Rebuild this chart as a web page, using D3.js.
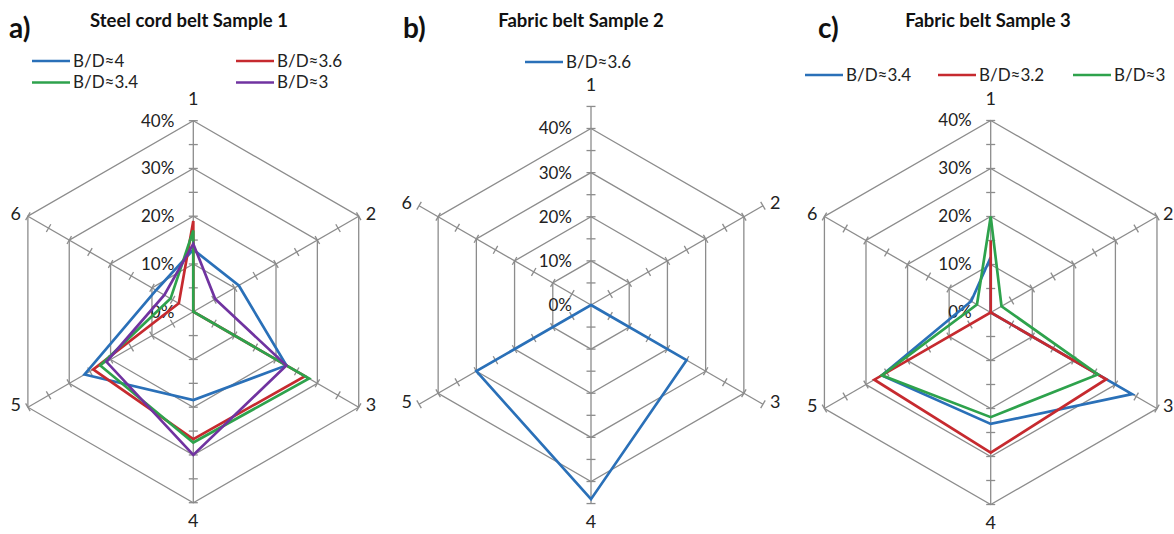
<!DOCTYPE html>
<html>
<head>
<meta charset="utf-8">
<script src="https://cdn.jsdelivr.net/npm/d3@7/dist/d3.min.js"></script>
<style>
  html, body { margin: 0; padding: 0; background: #fff; }
  svg { display: block; font-family: Lato, "Open Sans", "DejaVu Sans", sans-serif; }
</style>
</head>
<body>
<svg id="chart" width="1174" height="534"></svg>
<script>
// ---------- data ----------
const axisLabels = ["1", "2", "3", "4", "5", "6"];
const tickValues = [0, 10, 20, 30, 40];
const tickLabels = ["0%", "10%", "20%", "30%", "40%"];

// Panel a) Steel cord belt Sample 1
const aTitle = "Steel cord belt Sample 1";
const aNames = ["B/D≈4", "B/D≈3.6", "B/D≈3.4", "B/D≈3"];
const aBD4  = [13, 11, 22.5, 18.5, 26.3, 9];
const aBD36 = [19, 0, 27, 26.7, 24.2, 3.5];
const aBD34 = [17, 0, 28, 27.4, 22.5, 5.5];
const aBD3  = [14.2, 5.3, 22.5, 30, 21, 7];

// Panel b) Fabric belt Sample 2
const bTitle = "Fabric belt Sample 2";
const bNames = ["B/D≈3.6"];
const bBD36 = [0, 0, 25, 44, 30, 0];

// Panel c) Fabric belt Sample 3
const cTitle = "Fabric belt Sample 3";
const cNames = ["B/D≈3.4", "B/D≈3.2", "B/D≈3"];
const cBD34 = [11.5, 0, 34, 23.2, 26.2, 4.7];
const cBD32 = [15, 0, 27.8, 29.2, 28, 0];
const cBD3  = [20, 2.6, 25.8, 21.8, 26.2, 3.3];

const colors = { blue: "#2a70b8", red: "#c62a2f", green: "#2ea24c", purple: "#7033a0" };

// ---------- drawing ----------
const svg = d3.select("#chart");
const gridColor = "#8c8c8c";

function drawPanel(cfg) {
  const g = svg.append("g");
  const r = d3.scaleLinear().domain([0, 40]).range([0, cfg.r40]);
  const ang = d3.scaleLinear().domain([0, axisLabels.length]).range([0, 2 * Math.PI]);
  const pt = (i, v) => [cfg.cx + r(v) * Math.sin(ang(i)), cfg.cy - r(v) * Math.cos(ang(i))];

  // panel letter and title
  g.append("text").attr("x", cfg.letterX).attr("y", 38).attr("font-size", 28)
    .attr("font-weight", "bold").attr("fill", "#111").text(cfg.letter);
  g.append("text").attr("x", cfg.titleX).attr("y", 27).attr("font-size", 18.5)
    .attr("font-weight", "bold").attr("fill", "#111").attr("text-anchor", "middle").text(cfg.title);

  // rings
  tickValues.filter(v => v > 0).forEach(v => {
    const pts = axisLabels.map((_, i) => pt(i, v));
    g.append("path").attr("d", d3.line()(pts) + "Z")
      .attr("fill", "none").attr("stroke", gridColor).attr("stroke-width", 1.3);
  });
  // spokes + ticks
  axisLabels.forEach((_, i) => {
    const [x1, y1] = pt(i, 0), [x2, y2] = pt(i, cfg.max);
    g.append("line").attr("x1", x1).attr("y1", y1).attr("x2", x2).attr("y2", y2)
      .attr("stroke", gridColor).attr("stroke-width", 1.3);
    const a = ang(i);
    const px = Math.cos(a), py = Math.sin(a); // perpendicular direction
    d3.range(5, cfg.max + 0.01, 5).forEach(v => {
      const [tx, ty] = pt(i, v);
      g.append("line").attr("x1", tx - 4.5 * px).attr("y1", ty - 4.5 * py)
        .attr("x2", tx + 4.5 * px).attr("y2", ty + 4.5 * py)
        .attr("stroke", gridColor).attr("stroke-width", 1.3);
    });
  });
  // tick labels on axis 1
  tickValues.forEach((v, k) => {
    const [x, y] = pt(0, v);
    g.append("text").attr("x", x - 19).attr("y", y).attr("dy", "0.35em")
      .attr("text-anchor", "end").attr("font-size", 17).attr("fill", "#222").text(tickLabels[k]);
  });
  // axis labels
  axisLabels.forEach((lab, i) => {
    const [x, y] = pt(i, cfg.max);
    let lx = x, ly = y, anchor = "middle";
    if (i === 0) { ly = y - 22; }
    else if (i === 3) { ly = y + 18; }
    else if (i < 3) { lx = Math.min(x + 7, 1163); anchor = "start"; ly = y - 3; }
    else { lx = x - 7; anchor = "end"; ly = y - 3; }
    g.append("text").attr("x", lx).attr("y", ly).attr("dy", "0.35em")
      .attr("text-anchor", anchor).attr("font-size", 18).attr("fill", "#222").text(lab);
  });
  // series
  const line = d3.line().curve(d3.curveLinearClosed);
  cfg.series.forEach(s => {
    g.append("path").attr("d", line(s.values.map((v, i) => pt(i, v))))
      .attr("fill", "none").attr("stroke", s.color).attr("stroke-width", 2.7)
      .attr("stroke-linejoin", "miter");
  });
  // legend
  cfg.series.forEach((s, k) => {
    const [lx, ly] = cfg.legendPos[k];
    g.append("line").attr("x1", lx).attr("y1", ly).attr("x2", lx + 38).attr("y2", ly)
      .attr("stroke", s.color).attr("stroke-width", 2.7);
    g.append("text").attr("x", lx + 41).attr("y", ly).attr("dy", "0.35em")
      .attr("font-size", 17).attr("fill", "#222").text(s.name);
  });
}

drawPanel({
  letter: "a)", letterX: 9, title: aTitle, titleX: 189,
  cx: 193.3, cy: 311.7, r40: 191, max: 40,
  series: [
    { name: aNames[0], values: aBD4, color: colors.blue },
    { name: aNames[1], values: aBD36, color: colors.red },
    { name: aNames[2], values: aBD34, color: colors.green },
    { name: aNames[3], values: aBD3, color: colors.purple }
  ],
  legendPos: [[32, 61], [236, 61], [32, 82.5], [236, 82.5]]
});

drawPanel({
  letter: "b)", letterX: 403, title: bTitle, titleX: 581,
  cx: 591, cy: 305, r40: 176.5, max: 45,
  series: [ { name: bNames[0], values: bBD36, color: colors.blue } ],
  legendPos: [[525, 62]]
});

drawPanel({
  letter: "c)", letterX: 818, title: cTitle, titleX: 988,
  cx: 990.7, cy: 312.5, r40: 192, max: 40,
  series: [
    { name: cNames[0], values: cBD34, color: colors.blue },
    { name: cNames[1], values: cBD32, color: colors.red },
    { name: cNames[2], values: cBD3, color: colors.green }
  ],
  legendPos: [[805, 75], [938, 75], [1073, 75]]
});
</script>
</body>
</html>
